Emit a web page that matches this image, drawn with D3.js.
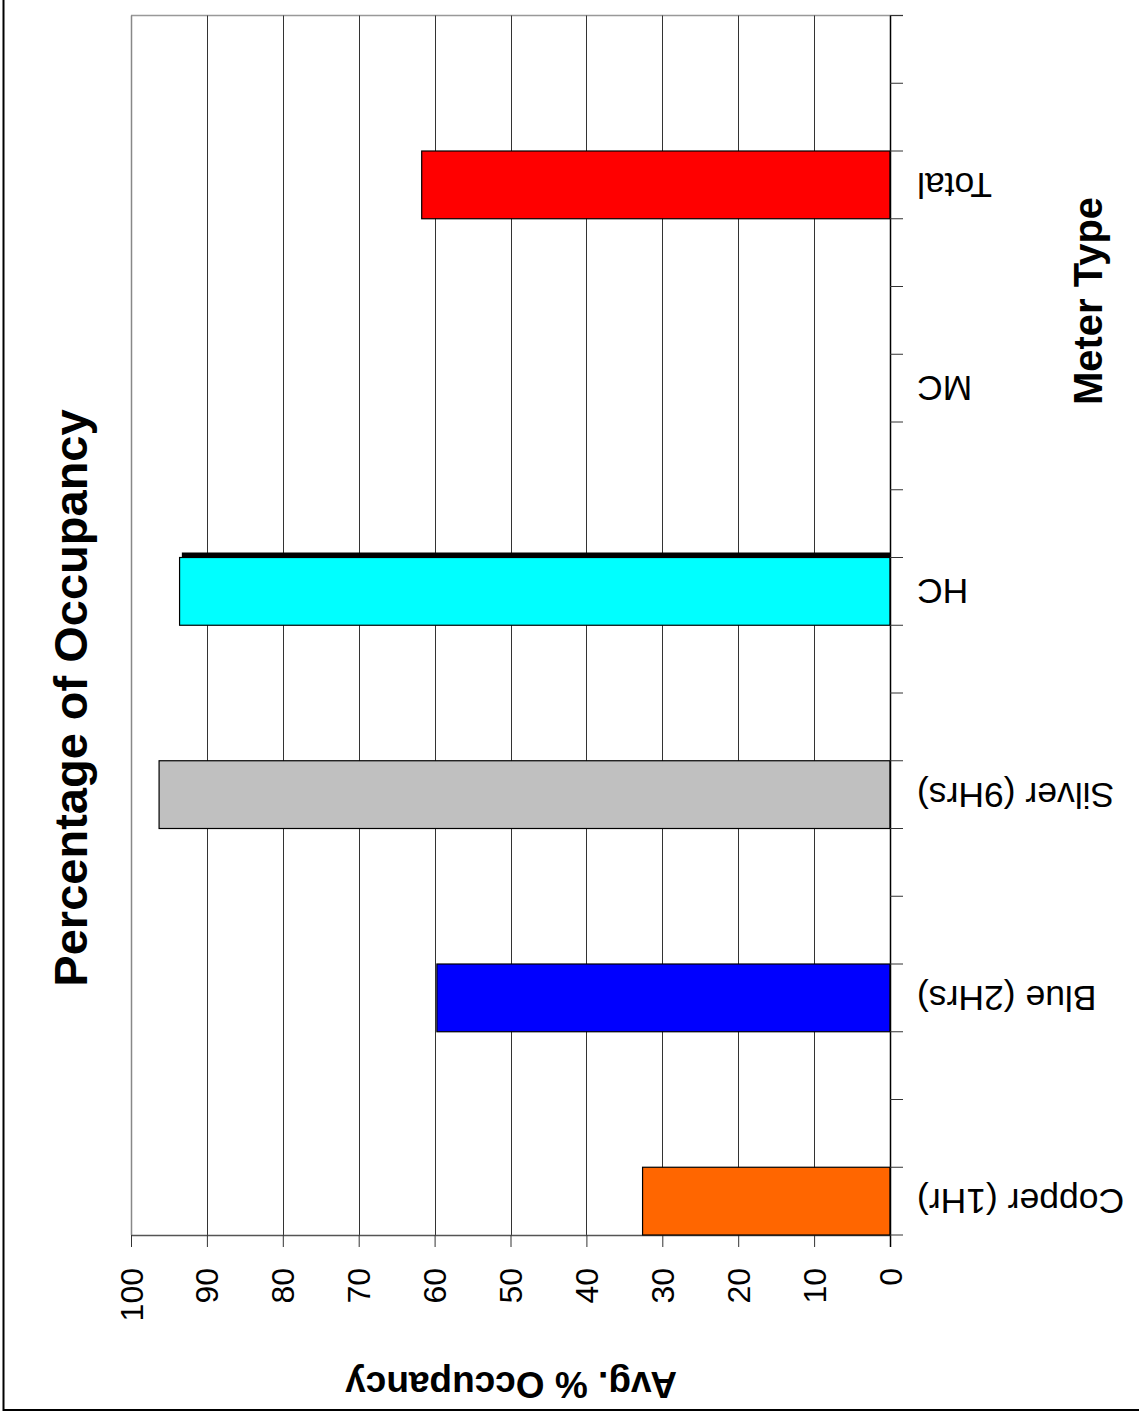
<!DOCTYPE html>
<html><head><meta charset="utf-8">
<script src="https://cdn.jsdelivr.net/npm/d3@7"></script>
<style>body{margin:0;background:#fff}svg{display:block}text{font-family:"Liberation Sans",Arial,sans-serif}</style>
</head><body>
<script>
// 18 category slots along the category axis, bottom to top; only every third carries a label
const slotLabels = ["Copper (1Hr)","","","Blue (2Hrs)","","","Silver (9Hrs)","","","HC","","","MC","","","Total","",""];
const barCategories = ["Copper (1Hr)","Blue (2Hrs)","Silver (9Hrs)","HC","Total"];
const barValues = [32.6, 59.7, 96.3, 93.6, 61.7];
const barColors = ["#FF6600","#0000FF","#C0C0C0","#00FFFF","#FF0000"];
const markerCategory = "HC";
const markerValue = 93.3;
const valueTicks = [0,10,20,30,40,50,60,70,80,90,100];
const titleText = "Percentage of Occupancy";
const valueAxisTitle = "Avg. % Occupancy";
const categoryAxisTitle = "Meter Type";

const W = 1139, H = 1416;
const svg = d3.select("body").append("svg").attr("width", W).attr("height", H);

// outer border
svg.append("rect").attr("x", 3.5).attr("y", -10).attr("width", W + 20).attr("height", 1420)
  .attr("fill", "none").attr("stroke", "#000").attr("stroke-width", 2);

const L = 131, R = 890, T = 15.5, B = 1235;
const x = d3.scaleLinear().domain([0, 100]).range([R, L]);
const slotIdx = d3.range(slotLabels.length);
const y = d3.scaleBand().domain(slotIdx).range([B, T]).padding(0);

// plot frame (top & left in gray)
svg.append("line").attr("x1", L).attr("x2", R + 13).attr("y1", T).attr("y2", T).attr("stroke", "#999").attr("stroke-width", 1.5);
svg.append("line").attr("x1", L + 0.5).attr("x2", L + 0.5).attr("y1", T).attr("y2", B).attr("stroke", "#888").attr("stroke-width", 1.5);

// gridlines
svg.append("g").selectAll("line").data(valueTicks.filter(v => v > 0 && v < 100)).join("line")
  .attr("x1", d => Math.round(x(d)) + 0.5).attr("x2", d => Math.round(x(d)) + 0.5)
  .attr("y1", T).attr("y2", B).attr("stroke", "#333").attr("stroke-width", 1);

// value axis (bottom)
const xAxis = svg.append("g").attr("transform", `translate(0,${B})`)
  .call(d3.axisBottom(x).tickValues(valueTicks).tickSize(12).tickSizeOuter(0));
xAxis.select(".domain").attr("stroke", "#555").attr("stroke-width", 1.5);
xAxis.selectAll(".tick line").attr("stroke", "#333");
xAxis.selectAll(".tick text")
  .attr("y", 0).attr("x", 0).attr("dy", null)
  .attr("transform", "translate(0,33) rotate(-90)")
  .attr("text-anchor", "end").attr("dominant-baseline", "central")
  .attr("font-size", 32).attr("fill", "#000");

// bars
const barData = barCategories.map((c, i) => ({c, v: barValues[i], col: barColors[i], slot: slotLabels.indexOf(c)}));
svg.append("g").selectAll("rect").data(barData).join("rect")
  .attr("x", d => x(d.v)).attr("width", d => x(0) - x(d.v))
  .attr("y", d => y(d.slot)).attr("height", y.bandwidth())
  .attr("fill", d => d.col).attr("stroke", "#000").attr("stroke-width", 1.2);

// thick marker line on HC
const mSlot = slotLabels.indexOf(markerCategory);
svg.append("rect").attr("x", x(markerValue)).attr("width", x(0) - x(markerValue))
  .attr("y", y(mSlot) - 5).attr("height", 4.5).attr("fill", "#000");

// category axis (right)
svg.append("line").attr("x1", R + 0.5).attr("x2", R + 0.5).attr("y1", T).attr("y2", B + 12).attr("stroke", "#000").attr("stroke-width", 1.5);
svg.append("g").selectAll("line").data(d3.range(slotLabels.length + 1)).join("line")
  .attr("x1", R).attr("x2", R + 13)
  .attr("y1", d => d < slotLabels.length ? y(d) + y.bandwidth() : T)
  .attr("y2", d => d < slotLabels.length ? y(d) + y.bandwidth() : T)
  .attr("stroke", "#333").attr("stroke-width", 1);

// category labels (upside down)
svg.append("g").selectAll("text").data(slotIdx.filter(i => slotLabels[i] !== "")).join("text")
  .attr("transform", d => `translate(917,${y(d) + y.bandwidth() / 2}) rotate(180)`)
  .attr("text-anchor", "end").attr("dominant-baseline", "central")
  .attr("font-size", 35.5).text(d => slotLabels[d]);

// titles
svg.append("text").attr("transform", "translate(70,698) rotate(-90)")
  .attr("text-anchor", "middle").attr("dominant-baseline", "central")
  .attr("font-size", 47).attr("font-weight", "bold").text(titleText);
svg.append("text").attr("transform", "translate(1088,301) rotate(-90)")
  .attr("text-anchor", "middle").attr("dominant-baseline", "central")
  .attr("font-size", 40).attr("font-weight", "bold").text(categoryAxisTitle);
svg.append("text").attr("transform", "translate(511,1384) rotate(180)")
  .attr("text-anchor", "middle").attr("dominant-baseline", "central")
  .attr("font-size", 37).attr("font-weight", "bold").text(valueAxisTitle);
</script>
</body></html>
